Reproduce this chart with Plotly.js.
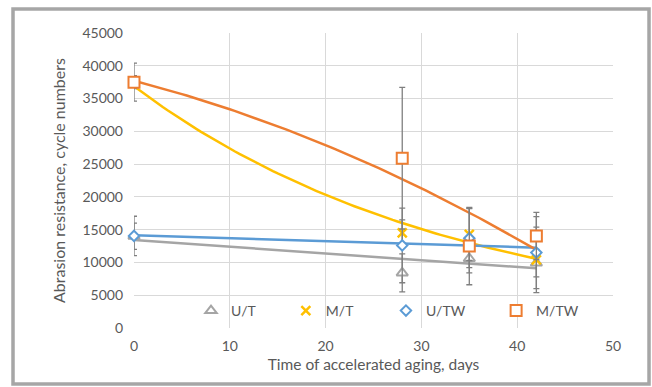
<!DOCTYPE html>
<html>
<head>
<meta charset="utf-8">
<script src="https://cdn.plot.ly/plotly-3.0.1.min.js"></script>
<style>
  html, body { margin: 0; padding: 0; background: #ffffff; }
  #chart { width: 652px; height: 387px; }
</style>
</head>
<body>
<div id="chart"></div>
<script>
// ---- data ----
const days = [0, 28, 35, 42];

const seriesNames = ["U/T", "M/T", "U/TW", "M/TW"];

const utValues  = [14000, 8400, 10600, 9900];
const utErrors  = [2000, 2900, 2200, 2100];

const mtValues  = [37500, 14500, 14300, 10400];
const mtErrors  = [1000, 2000, 4000, 5000];

const utwValues = [14050, 12600, 13700, 11500];
const utwErrors = [3000, 5700, 4500, 5500];

const mtwValues = [37500, 25900, 12500, 14050];
const mtwErrors = [2900, 10800, 5900, 3600];

const xTicks = [0, 10, 20, 30, 40, 50];
const yTicks = [0, 5000, 10000, 15000, 20000, 25000, 30000, 35000, 40000, 45000];

// ---- trendlines (least-squares fits of the data, as the spreadsheet does) ----
function solve(A, b) {
  const n = b.length;
  const M = A.map((r, i) => r.concat([b[i]]));
  for (let i = 0; i < n; i++) {
    let p = i;
    for (let k = i + 1; k < n; k++) if (Math.abs(M[k][i]) > Math.abs(M[p][i])) p = k;
    [M[i], M[p]] = [M[p], M[i]];
    for (let k = i + 1; k < n; k++) {
      const f = M[k][i] / M[i][i];
      for (let j = i; j <= n; j++) M[k][j] -= f * M[i][j];
    }
  }
  const x = new Array(n).fill(0);
  for (let i = n - 1; i >= 0; i--) {
    let s = M[i][n];
    for (let j = i + 1; j < n; j++) s -= M[i][j] * x[j];
    x[i] = s / M[i][i];
  }
  return x;
}
function polyFit(xs, ys, deg) {
  const m = deg + 1;
  const A = [], b = [];
  for (let i = 0; i < m; i++) {
    A.push([]);
    for (let j = 0; j < m; j++) A[i].push(xs.reduce((s, x) => s + Math.pow(x, i + j), 0));
    b.push(xs.reduce((s, x, k) => s + Math.pow(x, i) * ys[k], 0));
  }
  const c = solve(A, b);
  return x => c.reduce((s, ci, i) => s + ci * Math.pow(x, i), 0);
}
function expFit(xs, ys) {
  const f = polyFit(xs, ys.map(Math.log), 1);
  return x => Math.exp(f(x));
}
function sampleX(x0, x1, step) {
  const out = [];
  for (let x = x0; x <= x1 + 1e-9; x += step) out.push(x);
  return out;
}
const xFit = sampleX(days[0], days[days.length - 1], 0.5);

const colors = ["#a5a5a5", "#ffc000", "#5b9bd5", "#ed7d31"];
const values = [utValues, mtValues, utwValues, mtwValues];
const errors = [utErrors, mtErrors, utwErrors, mtwErrors];
const fits = [
  polyFit(days, utValues, 1),
  expFit(days, mtValues),
  polyFit(days, utwValues, 1),
  polyFit(days, mtwValues, 2)
];
const symbols = ["triangle-up", "x-thin", "diamond", "square"];
const sizes = [10, 9, 8, 11];
const legendIds = ["legend", "legend2", "legend3", "legend4"];
const legendX = [0.119, 0.317, 0.526, 0.756];

const traces = [];
for (let i = 0; i < 4; i++) {
  traces.push({
    type: "scatter", mode: "lines", x: xFit, y: xFit.map(fits[i]),
    line: { color: colors[i], width: 2.5 }, showlegend: false, hoverinfo: "skip",
    cliponaxis: false
  });
}
for (let i = 0; i < 4; i++) {
  const isX = symbols[i] === "x-thin";
  traces.push({
    type: "scatter", mode: "markers", name: seriesNames[i], legend: legendIds[i],
    x: days, y: values[i],
    marker: {
      symbol: symbols[i], size: sizes[i],
      color: isX ? colors[i] : "#ffffff",
      line: { color: colors[i], width: isX ? 2.5 : 2 }
    },
    error_y: { type: "data", array: errors[i], visible: true, color: "#7f7f7f", thickness: 1.3, width: 3 },
    cliponaxis: false
  });
}

const font = "Lato, 'Open Sans', sans-serif";
const layout = {
  width: 652, height: 387,
  margin: { l: 134, r: 39, t: 33, b: 59 },
  paper_bgcolor: "#ffffff", plot_bgcolor: "#ffffff",
  font: { family: font, color: "#595959", size: 14 },
  xaxis: {
    range: [0, 50], tickvals: xTicks, ticktext: xTicks.map(String),
    showgrid: true, gridcolor: "#d9d9d9", gridwidth: 1,
    zeroline: false, showline: false, ticks: "", ticklabelstandoff: 8,
    tickfont: { family: font, size: 14, color: "#595959" },
    title: { text: "Time of accelerated aging, days", standoff: 6, font: { family: font, size: 15.5, color: "#595959" } }
  },
  yaxis: {
    range: [0, 45000], tickvals: yTicks, ticktext: yTicks.map(String),
    showgrid: true, gridcolor: "#d9d9d9", gridwidth: 1,
    zeroline: false, showline: false, ticks: "", ticklabelstandoff: 10,
    tickfont: { family: font, size: 14, color: "#595959" },
    title: { text: "Abrasion resistance, cycle numbers", standoff: 12, font: { family: font, size: 16, color: "#595959" } }
  },
  showlegend: true,
  shapes: [{
    type: "rect", xref: "paper", yref: "paper",
    x0: -0.2526, x1: 1.0752, y0: -0.1898, y1: 1.0814,
    line: { color: "#a6a6a6", width: 3.5 }, fillcolor: "rgba(0,0,0,0)", layer: "below"
  }]
};
for (let i = 0; i < 4; i++) {
  layout[legendIds[i]] = {
    orientation: "h", x: legendX[i], xanchor: "left", y: 0.0576, yanchor: "middle",
    bgcolor: "rgba(0,0,0,0)", font: { family: font, size: 14, color: "#595959" }
  };
}

Plotly.newPlot("chart", traces, layout, { staticPlot: true, displayModeBar: false });
</script>
</body>
</html>
